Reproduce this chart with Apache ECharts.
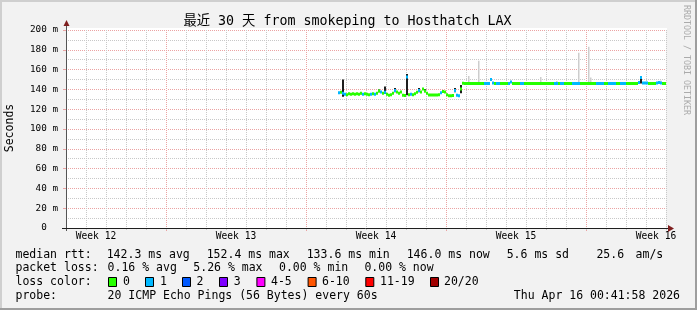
<!DOCTYPE html>
<html><head><meta charset="utf-8">
<script src="https://cdn.jsdelivr.net/npm/echarts@6/dist/echarts.min.js"></script>
<style>html,body{margin:0;padding:0;background:#f2f2f2}#c{width:697px;height:310px}</style>
</head><body><div id="c"></div>
<script>
// ---------------- data ----------------
const titleText = '最近 30 天 from smokeping to Hosthatch LAX';
const yAxisName = 'Seconds';
const watermark = 'RRDTOOL / TOBI OETIKER';
const yMin = 0, yMax = 200, yStep = 20;
const xDays = 30;
const weekLabels = ['Week 12', 'Week 13', 'Week 14', 'Week 15', 'Week 16'];
const weekLabelDays = [1.5, 8.5, 15.5, 22.5, 29.5];
const weekLineDays = [5, 12, 19, 26];

// median rtt per 2.4h bin (ms), first bin starts at day 13.6
const binStartDay = 13.6;
const binDays = 0.1;
const medianMs = [
  136.5,137,136,135,134.5,135.5,135,135.5,135,135.5,
  135,136,135,135.5,135,134.5,135,135.5,135,136,
  138.5,137.5,136,137,135,134,134.5,136,139,137.5,
  136,137.5,134,133.8,152.4,134.5,135,134.5,135.5,137,
  139,137.5,140.5,138.5,136,134.3,134.3,134.3,134.3,134.3,
  134.5,136.5,138,137.5,134.5,133.6,133.6,133.8,139,134,
  133.6,140.5,146.1,146,146,146,146,146,146,146,
  146,146,146,146,146,146,150,146.5,146,146,
  146,146,146,146,146,146,147.5,146,146,146,
  146,146,146,146,146,146,146,146,146,146,
  146,146,146,146,146,146,146,146,146,146,
  146,146,146,146,146,146,146,146,146,146,
  146,146,146,146,146,146,146,146,146,146,
  146,146,146,146,146,146,146,146,146,146,
  146,146,146,146,146,146,146,146,146,146,
  147,152,146.5,146.5,146.5,146,146,146,146,146.5,
  147,146.5,146,146
];
// lost pings (of 20) per bin
const lossCount = [
  1,0,1,1,0,0,0,0,0,0,
  0,0,1,0,0,0,1,0,1,0,
  0,1,0,1,0,0,0,0,1,0,
  0,0,0,0,1,0,1,0,0,0,
  1,0,0,0,0,0,0,0,0,0,
  0,1,0,0,0,0,0,0,1,1,
  1,0,0,0,0,0,0,0,0,0,
  0,0,0,1,1,1,1,1,0,1,
  1,0,0,0,0,1,1,0,0,0,
  0,1,1,0,0,0,0,0,0,0,
  0,0,0,0,0,0,0,0,1,1,
  0,1,1,0,0,0,0,1,1,1,
  1,0,0,0,0,0,0,0,0,1,
  1,1,1,0,0,1,1,1,1,0,
  0,1,1,1,0,0,0,0,0,0,
  1,1,1,1,1,0,0,0,0,1,
  1,1,0,0
];
// smoke (ping spread), sparse: bin index, low, high
const darkSmokeBin  = [2, 11, 20, 23, 28, 34, 40, 43, 52, 58, 61, 151];
const darkSmokeLow  = [132.6, 135, 137, 135.5, 137, 134, 137, 137, 136.5, 137, 136, 146];
const darkSmokeHigh = [150, 137.5, 140, 143, 141.5, 155.5, 141.5, 140.5, 138.5, 141.5, 144.5, 153.5];
const lightSmokeBin  = [65, 70, 101, 109, 120, 125, 126, 161];
const lightSmokeLow  = [146, 146, 146, 146, 146, 146, 146, 146];
const lightSmokeHigh = [153.5, 169, 152.5, 148.5, 177, 183, 152, 149];

const lossLabels = ['0', '1', '2', '3', '4-5', '6-10', '11-19', '20/20'];
const lossColors = ['#26ff00', '#00b8ff', '#0059ff', '#7e00ff', '#ff00ff', '#ff5500', '#ff0000', '#a10000'];

const statRtt  = ['median rtt:', '142.3 ms avg', '152.4 ms max', '133.6 ms min', '146.0 ms now', '5.6 ms sd', '25.6', 'am/s'];
const statLoss = ['packet loss:', '0.16 % avg', '5.26 % max', '0.00 % min', '0.00 % now'];
const lossRowLabel = 'loss color:';
const probeRow = ['probe:', '20 ICMP Echo Pings (56 Bytes) every 60s'];
const stampText = 'Thu Apr 16 00:41:58 2026';

// ---------------- layout / style ----------------
const MONO = "'DejaVu Sans Mono', 'Noto Sans CJK SC', monospace";
const GRID_L = 66, GRID_T = 30, GRID_R = 666, GRID_B = 228;
const GRAY = '#c8c8c8', RED = '#eba3a3';
const rttX  = [15.5, 106.7, 206.7, 306.7, 406.7, 506.7, 596.4, 635.6];
const lossX = [15.5, 107.6, 193.3, 279, 364.4];
const boxX = [108, 145, 182, 219, 256.4, 307.6, 365.3, 430];
const boxLabelX = [123, 160, 196.4, 233.8, 271, 322, 380, 444];
const rowY = [255, 268.5, 282, 296];

function lossIndex(n) { if (n <= 3) return n; if (n <= 5) return 4; if (n <= 10) return 5; if (n <= 19) return 6; return 7; }

const medianData = medianMs.map((v, i) => [binStartDay + i * binDays, v, lossCount[i]]);
const darkData = darkSmokeBin.map((b, i) => [binStartDay + b * binDays, darkSmokeLow[i], darkSmokeHigh[i]]);
const lightData = lightSmokeBin.map((b, i) => [binStartDay + b * binDays, lightSmokeLow[i], lightSmokeHigh[i]]);

function txt(x, y, s, extra) {
  return Object.assign({ type: 'text', x: x, y: y, silent: true,
    style: Object.assign({ text: s, fill: '#000', font: '11.5px ' + MONO, align: 'left', verticalAlign: 'middle' }, extra || {}) });
}

const graphics = [
  { type: 'rect', shape: { x: 0, y: 0, width: 697, height: 2 }, style: { fill: '#cfcfcf' }, silent: true },
  { type: 'rect', shape: { x: 0, y: 0, width: 2, height: 310 }, style: { fill: '#cfcfcf' }, silent: true },
  { type: 'rect', shape: { x: 0, y: 308, width: 697, height: 2 }, style: { fill: '#9e9e9e' }, silent: true },
  { type: 'rect', shape: { x: 695, y: 0, width: 2, height: 310 }, style: { fill: '#9e9e9e' }, silent: true },
  { type: 'rect', shape: { x: GRID_L, y: 28, width: GRID_R - GRID_L + 1, height: 2 }, style: { fill: '#fff' }, silent: true },
  // axes with rrdtool-style overhang and arrows
  { type: 'line', shape: { x1: GRID_L + 0.5, y1: GRID_B + 3, x2: GRID_L + 0.5, y2: 25 }, style: { stroke: '#555', lineWidth: 1 }, silent: true, z: 50 },
  { type: 'line', shape: { x1: GRID_L - 4, y1: GRID_B + 0.5, x2: 669, y2: GRID_B + 0.5 }, style: { stroke: '#1f1f1f', lineWidth: 1 }, silent: true, z: 50 },
  { type: 'polygon', shape: { points: [[63.5, 26], [66.5, 20], [69.5, 26]] }, style: { fill: '#7f1f1f' }, silent: true, z: 51 },
  { type: 'polygon', shape: { points: [[668, 225], [674, 228.5], [668, 232]] }, style: { fill: '#7f1f1f' }, silent: true, z: 51 },
  txt(347.5, 22, titleText, { font: '13.3px ' + MONO, align: 'center' }),
  Object.assign(txt(10, 128, yAxisName, { align: 'center' }), { rotation: Math.PI / 2 }),
  Object.assign(txt(686, 60, watermark, { align: 'center', fill: '#ababab', font: '8.3px ' + MONO }), { rotation: -Math.PI / 2 }),
  txt(15.5, rowY[2], lossRowLabel),
  txt(15.5, rowY[3], probeRow[0]),
  txt(107.6, rowY[3], probeRow[1]),
  txt(680, rowY[3], stampText, { align: 'right' })
];
statRtt.forEach((s, i) => graphics.push(txt(rttX[i], rowY[0], s)));
statLoss.forEach((s, i) => graphics.push(txt(lossX[i], rowY[1], s)));
lossLabels.forEach((s, i) => {
  graphics.push({ type: 'rect', shape: { x: boxX[i] + 0.5, y: rowY[2] - 4.5, width: 8, height: 9 },
    style: { fill: lossColors[i], stroke: '#000', lineWidth: 1 }, silent: true });
  graphics.push(txt(boxLabelX[i], rowY[2], s));
});

const chart = echarts.init(document.getElementById('c'), null, { renderer: 'canvas' });
chart.setOption({
  animation: false,
  backgroundColor: '#f2f2f2',
  grid: { left: GRID_L, top: GRID_T, right: 697 - GRID_R, bottom: 310 - GRID_B, show: true, backgroundColor: '#fff', borderWidth: 0 },
  xAxis: {
    type: 'value', min: 0, max: xDays, interval: 1,
    axisLine: { show: false },
    axisTick: { show: true, length: 2, lineStyle: { color: GRAY } },
    splitLine: { show: true, lineStyle: { color: GRAY, type: [1, 1], width: 1 } },
    axisLabel: {
      customValues: weekLabelDays,
      formatter: v => weekLabels[weekLabelDays.indexOf(v)] || '',
      fontFamily: MONO, fontSize: 9.6, color: '#000', margin: 4
    }
  },
  yAxis: {
    type: 'value', min: yMin, max: yMax, interval: yStep,
    axisLine: { show: false },
    axisTick: { show: true, length: 3, lineStyle: { color: RED } },
    minorTick: { show: false, splitNumber: 2 },
    splitLine: { show: true, lineStyle: { color: RED, type: [1, 1], width: 1 } },
    minorSplitLine: { show: true, lineStyle: { color: GRAY, type: [1, 1], width: 1 } },
    axisLabel: { formatter: v => v === 0 ? '0  ' : v + ' m', fontFamily: MONO, fontSize: 9.3, color: '#000', margin: 8 }
  },
  graphic: graphics,
  series: [
    {
      type: 'custom', name: 'weeks', silent: true, z: 1,
      data: weekLineDays.map(d => [d, yMin]),
      encode: { x: 0, y: 1 },
      renderItem: (params, api) => {
        const p0 = api.coord([api.value(0), yMin]);
        const p1 = api.coord([api.value(0), yMax]);
        const x = Math.round(p0[0]) + 0.5;
        return { type: 'group', children: [
          { type: 'line', shape: { x1: x, y1: p0[1], x2: x, y2: p1[1] }, style: { stroke: '#fff', lineWidth: 1 } },
          { type: 'line', shape: { x1: x, y1: p0[1] + 3, x2: x, y2: p1[1] }, style: { stroke: RED, lineWidth: 1, lineDash: [1, 1] } }
        ] };
      }
    },
    {
      type: 'custom', name: 'smoke', silent: true, z: 3, clip: true,
      data: lightData, encode: { x: 0, y: [1, 2] },
      renderItem: (params, api) => {
        const a = api.coord([api.value(0), api.value(1)]);
        const b = api.coord([api.value(0) + binDays, api.value(2)]);
        return { type: 'rect', shape: { x: Math.round(a[0]), y: b[1], width: 1.5, height: a[1] - b[1] }, style: { fill: '#cdcdcd' } };
      }
    },
    {
      type: 'custom', name: 'smokeDark', silent: true, z: 4, clip: true,
      data: darkData, encode: { x: 0, y: [1, 2] },
      renderItem: (params, api) => {
        const a = api.coord([api.value(0), api.value(1)]);
        const b = api.coord([api.value(0) + binDays, api.value(2)]);
        return { type: 'rect', shape: { x: a[0], y: b[1], width: b[0] - a[0], height: a[1] - b[1] }, style: { fill: '#1e1e1e' } };
      }
    },
    {
      type: 'custom', name: 'median', silent: true, z: 5, clip: true,
      data: medianData, encode: { x: 0, y: 1 },
      renderItem: (params, api) => {
        const a = api.coord([api.value(0), api.value(1)]);
        const b = api.coord([api.value(0) + binDays, api.value(1)]);
        return { type: 'rect', shape: { x: a[0], y: a[1] - 1.5, width: b[0] - a[0], height: 3 },
          style: { fill: lossColors[lossIndex(api.value(2))] } };
      }
    }
  ]
});
</script></body></html>
